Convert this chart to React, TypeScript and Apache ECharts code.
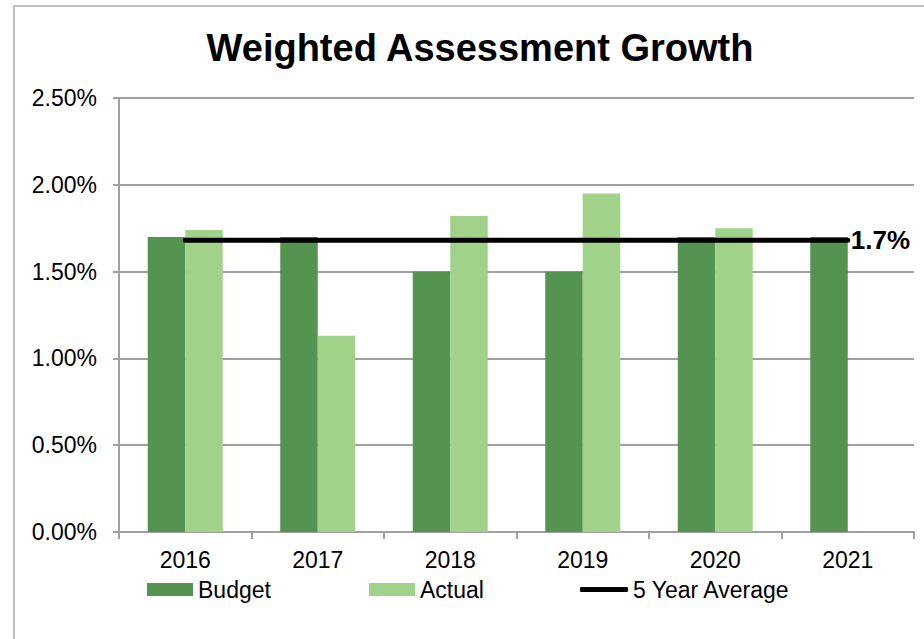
import React, { useEffect, useRef } from "react";
import * as echarts from "echarts";

const years = ["2016", "2017", "2018", "2019", "2020", "2021"];
const budget = [1.7, 1.7, 1.5, 1.5, 1.7, 1.7];
const actual = [1.74, 1.13, 1.82, 1.95, 1.75, null];
const fiveYearAverage = [1.68, 1.68, 1.68, 1.68, 1.68, 1.68];
const yTicks = { min: 0, max: 2.5, interval: 0.5 };

const FONT = "'Liberation Sans', Arial, sans-serif";
const DARK = "#559450";
const LIGHT = "#A0D28A";

export default function App() {
  const ref = useRef<HTMLDivElement>(null);
  useEffect(() => {
    if (!ref.current) return;
    const chart = echarts.init(ref.current, null, { renderer: "svg" });
    const legendText = { fontFamily: FONT, fontSize: 23, color: "#000" };
    chart.setOption({
      animation: false,
      backgroundColor: "#fff",
      title: {
        text: "Weighted Assessment Growth",
        left: 475,
        textAlign: "center",
        top: 24,
        textStyle: { fontFamily: FONT, fontSize: 38, fontWeight: "bold", color: "#000" },
      },
      graphic: [
        {
          type: "rect",
          shape: { x: 14, y: 6, width: 1000, height: 800 },
          style: { fill: "none", stroke: "#c0c0c0", lineWidth: 2 },
          silent: true,
        },
      ],
      grid: { left: 119, right: 10, top: 98, bottom: 107, containLabel: false },
      legend: [
        {
          data: ["Budget"],
          left: 142,
          top: 573,
          itemWidth: 46,
          itemHeight: 13,
          icon: "rect",
          textStyle: legendText,
        },
        {
          data: ["Actual"],
          left: 364,
          top: 573,
          itemWidth: 46,
          itemHeight: 13,
          icon: "rect",
          textStyle: legendText,
        },
        {
          data: ["5 Year Average"],
          left: 575,
          top: 573,
          itemWidth: 48,
          itemHeight: 5,
          icon: "roundRect",
          textStyle: legendText,
        },
      ],
      xAxis: {
        type: "category",
        data: years,
        axisLine: { lineStyle: { color: "#a0a0a0", width: 2 } },
        axisTick: { show: true, length: 7, lineStyle: { color: "#a0a0a0", width: 2 } },
        axisLabel: { fontFamily: FONT, fontSize: 23, color: "#000", margin: 16 },
      },
      yAxis: {
        type: "value",
        min: yTicks.min,
        max: yTicks.max,
        interval: yTicks.interval,
        axisLine: { show: true, lineStyle: { color: "#a0a0a0", width: 2 } },
        axisTick: { show: true, length: 6, lineStyle: { color: "#a0a0a0", width: 2 } },
        splitLine: { lineStyle: { color: "#a0a0a0", width: 2 } },
        axisLabel: {
          fontFamily: FONT,
          fontSize: 23,
          color: "#000",
          margin: 22,
          formatter: (v: number) => v.toFixed(2) + "%",
        },
      },
      series: [
        {
          name: "Budget",
          type: "bar",
          data: budget,
          barWidth: "28.3%",
          barGap: "0%",
          itemStyle: { color: DARK },
        },
        {
          name: "Actual",
          type: "bar",
          data: actual,
          barWidth: "28.3%",
          barGap: "0%",
          itemStyle: { color: LIGHT },
        },
        {
          name: "5 Year Average",
          type: "line",
          data: fiveYearAverage,
          symbol: "none",
          itemStyle: { color: "#000" },
          lineStyle: { color: "#000", width: 5, cap: "round" },
          endLabel: {
            show: true,
            distance: 3,
            formatter: (p: any) => Number(p.value).toFixed(1) + "%",
            fontFamily: FONT,
            fontSize: 26,
            fontWeight: "bold",
            color: "#000",
          },
          z: 5,
        },
      ],
    });
    return () => chart.dispose();
  }, []);
  return (
    <div
      ref={ref}
      style={{ position: "fixed", left: 0, top: 0, width: 924, height: 639 }}
    />
  );
}
